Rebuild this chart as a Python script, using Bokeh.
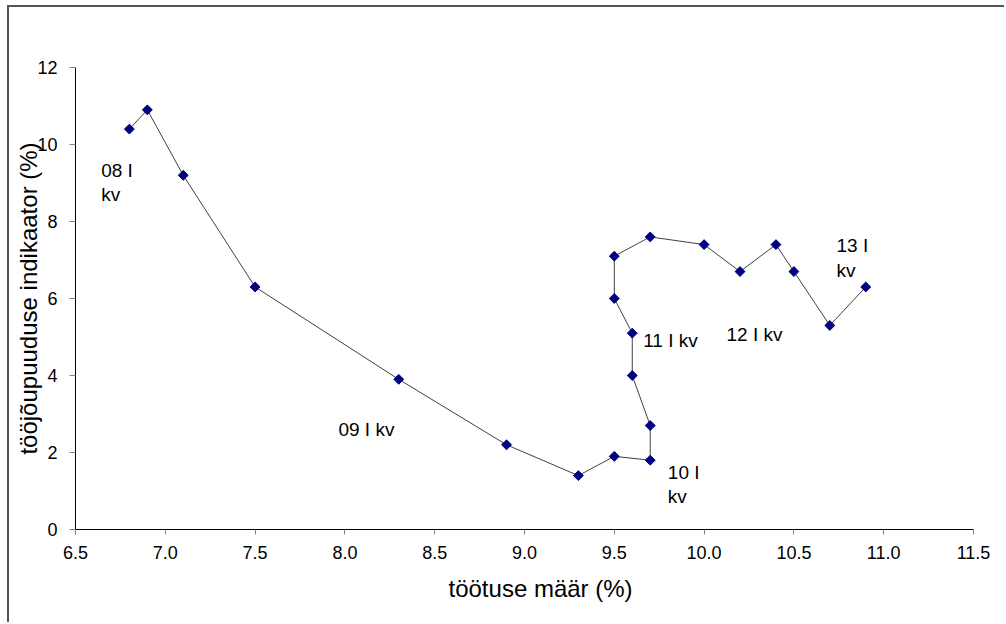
from bokeh.plotting import figure
from bokeh.models import Range1d, FixedTicker, NumeralTickFormatter, Title
from bokeh.core.properties import value
from bokeh.embed import file_html
from bokeh.resources import INLINE

# data: unemployment rate (x) vs labour shortage indicator (y), quarterly
unemployment = [6.8, 6.9, 7.1, 7.5, 8.3, 8.9, 9.3, 9.5, 9.7, 9.7, 9.6,
                9.6, 9.5, 9.5, 9.7, 10.0, 10.2, 10.4, 10.5, 10.7, 10.9]
shortage = [10.4, 10.9, 9.2, 6.3, 3.9, 2.2, 1.4, 1.9, 1.8, 2.7, 4.0,
            5.1, 6.0, 7.1, 7.6, 7.4, 6.7, 7.4, 6.7, 5.3, 6.3]

label_text = ["08 I\nkv", "09 I kv", "10 I\nkv", "11 I kv", "12 I kv", "13 I\nkv"]
label_x = [6.643, 7.964, 9.798, 9.661, 10.125, 10.737]
label_y = [9.61, 2.88, 1.756, 5.19, 5.35, 7.64]

x_ticks = [6.5, 7.0, 7.5, 8.0, 8.5, 9.0, 9.5, 10.0, 10.5, 11.0, 11.5]
y_ticks = [0, 2, 4, 6, 8, 10, 12]

x_title = "töötuse määr (%)"
y_title = "tööjõupuuduse indikaator (%)"

FONT = "Liberation Sans"

p = figure(width=997, height=617,
           x_range=Range1d(6.5, 11.5), y_range=Range1d(0, 12),
           output_backend="svg", toolbar_location=None,
           min_border_left=66, min_border_right=33,
           min_border_top=60, min_border_bottom=95)
p.margin = (5, 0, 0, 7)
p.styles = {"border-top": "2px solid #555555", "border-left": "2px solid #555555"}
p.grid.visible = False
p.outline_line_color = None
p.background_fill_color = "white"
p.border_fill_color = "white"

p.line(unemployment, shortage, line_color="#404040", line_width=1)
p.scatter(unemployment, shortage, marker="square", angle=0.785398, size=7,
          fill_color="#000080", line_color="#000080")

p.text(x=label_x, y=label_y, text=label_text,
       text_font=value(FONT), text_font_size="19px", text_color="black",
       text_baseline="top", text_align="left", text_line_height=1.15)

for ax in (p.xaxis[0], p.yaxis[0]):
    ax.axis_line_color = "black"
    ax.axis_line_width = 1
    ax.major_tick_line_color = "#808080"
    ax.major_tick_in = 0
    ax.minor_tick_line_color = None
    ax.major_label_text_font = FONT
    ax.major_label_text_font_size = "18px"
    ax.major_label_text_color = "black"
    ax.axis_label_text_font = FONT
    ax.axis_label_text_font_size = "24px"
    ax.axis_label_text_font_style = "normal"
    ax.axis_label_text_color = "black"

p.xaxis.ticker = FixedTicker(ticks=x_ticks)
p.xaxis.formatter = NumeralTickFormatter(format="0.0")
p.xaxis.major_tick_out = 5
p.xaxis.major_label_standoff = 11

# x-axis title, slightly right of the plot centre as in the original
p.add_layout(Title(text=x_title, align="left", offset=373, standoff=22,
                   text_font=FONT, text_font_size="24px",
                   text_font_style="normal", text_color="black"), "below")

p.yaxis.ticker = FixedTicker(ticks=y_ticks)
p.yaxis.major_tick_out = 6
p.yaxis.major_label_standoff = 12
p.yaxis.axis_label = y_title
p.yaxis.axis_label_standoff = -8

open("out.html", "w").write(file_html(p, INLINE))
